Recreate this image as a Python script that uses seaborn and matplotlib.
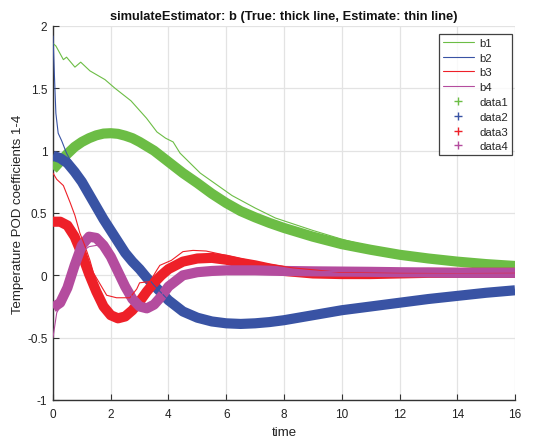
import matplotlib
matplotlib.use("Agg")
import matplotlib.pyplot as plt
from matplotlib.lines import Line2D
import seaborn as sns

# --- true coefficients (thick) ---
t_true = [0, 0.25, 0.5, 0.75, 1, 1.25, 1.5, 1.75, 2, 2.25, 2.5, 2.75, 3, 3.25,
          3.5, 3.75, 4, 4.5, 5, 5.5, 6, 6.5, 7, 7.5, 8, 9, 10, 11, 12, 13, 14, 15, 16]
b1_true = [0.85, 0.915, 0.975, 1.03, 1.07, 1.10, 1.123, 1.137, 1.14, 1.135, 1.12, 1.10, 1.07,
           1.035, 1.0, 0.955, 0.91, 0.82, 0.74, 0.655, 0.58, 0.515, 0.465, 0.42, 0.38,
           0.31, 0.25, 0.205, 0.165, 0.135, 0.11, 0.09, 0.075]
b2_true = [0.96, 0.94, 0.90, 0.83, 0.75, 0.65, 0.55, 0.45, 0.36, 0.27, 0.18, 0.11, 0.05,
           -0.02, -0.08, -0.14, -0.2, -0.29, -0.34, -0.37, -0.385, -0.39, -0.385, -0.375,
           -0.36, -0.32, -0.28, -0.25, -0.22, -0.19, -0.165, -0.14, -0.12]
b3_true = [0.43, 0.43, 0.40, 0.31, 0.17, 0.01, -0.13, -0.25, -0.32, -0.345, -0.33, -0.28,
           -0.21, -0.13, -0.06, 0.0, 0.05, 0.11, 0.135, 0.14, 0.125, 0.10, 0.08, 0.055,
           0.035, 0.015, 0.01, 0.01, 0.015, 0.02, 0.02, 0.02, 0.02]
b4_true = [-0.26, -0.22, -0.10, 0.08, 0.24, 0.31, 0.30, 0.24, 0.15, 0.03, -0.09, -0.19,
           -0.25, -0.265, -0.235, -0.17, -0.09, 0.0, 0.025, 0.035, 0.04, 0.04, 0.04, 0.037,
           0.035, 0.032, 0.03, 0.028, 0.025, 0.023, 0.02, 0.02, 0.02]

# --- estimated coefficients (thin) ---
t_e1 = [0, 0.1, 0.36, 0.47, 0.76, 0.96, 1.28, 1.8, 2.15, 2.7, 3.24, 3.6, 3.9, 4.16,
        4.4, 5.1, 6.2, 7.0, 7.7, 9, 10, 11, 12, 13, 14, 15, 16]
b1_est = [1.86, 1.84, 1.73, 1.75, 1.67, 1.71, 1.64, 1.57, 1.50, 1.40, 1.26, 1.15, 1.10,
          1.07, 0.98, 0.82, 0.64, 0.54, 0.46, 0.36, 0.29, 0.23, 0.18, 0.145, 0.12, 0.10, 0.08]

t_e2 = [0, 0.05, 0.1, 0.18, 0.3, 0.47, 0.7, 0.85, 1.0, 1.15, 1.3, 1.45, 1.6, 1.8, 2.0,
        2.25, 2.5, 2.75, 3.0, 3.5, 4, 4.5, 5, 6, 7, 8, 10, 12, 14, 16]
b2_est = [1.92, 1.6, 1.3, 1.14, 1.08, 0.98, 0.88, 0.84, 0.78, 0.72, 0.66, 0.61, 0.55,
          0.47, 0.38, 0.29, 0.19, 0.12, 0.06, -0.08, -0.2, -0.29, -0.34, -0.385, -0.385,
          -0.36, -0.28, -0.22, -0.165, -0.12]

t_e3 = [0, 0.13, 0.36, 0.6, 0.76, 0.93, 1.1, 1.28, 1.4, 1.63, 1.86, 2.2, 2.66, 2.9,
        3.0, 3.36, 3.59, 3.7, 4.1, 4.5, 4.85, 5.3, 6.0, 7.16, 8.3, 9.9, 12, 14, 16]
b3_est = [0.82, 0.77, 0.72, 0.58, 0.48, 0.34, 0.24, 0.12, 0.02, -0.07, -0.16, -0.18,
          -0.18, -0.11, -0.06, -0.05, 0.04, 0.08, 0.12, 0.19, 0.2, 0.195, 0.16, 0.10,
          0.06, 0.025, 0.02, 0.02, 0.02]

t_e4 = [0, 0.13, 0.25, 0.5, 0.75, 1, 1.25, 1.5, 1.75, 2, 2.25, 2.5, 2.75, 3, 3.25,
        3.5, 3.75, 4, 4.5, 5, 6, 8, 10, 12, 16]
b4_est = [-0.5, -0.3, -0.25, -0.12, 0.06, 0.19, 0.23, 0.24, 0.25, 0.17, 0.04, -0.08,
          -0.18, -0.24, -0.26, -0.23, -0.16, -0.08, 0.0, 0.03, 0.04, 0.035, 0.03, 0.025, 0.02]

colors = ["#6cbd45", "#3953a4", "#ee2028", "#b44c9e"]
est_labels = ["b1", "b2", "b3", "b4"]
true_labels = ["data1", "data2", "data3", "data4"]

sns.set_theme(style="ticks")
plt.rcParams["font.family"] = ["Liberation Sans", "DejaVu Sans"]

fig = plt.figure(figsize=(5.39, 4.39), dpi=100)
ax = fig.add_axes([0.0983, 0.0866, 0.8572, 0.8519])

est = [(t_e1, b1_est), (t_e2, b2_est), (t_e3, b3_est), (t_e4, b4_est)]
tru = [b1_true, b2_true, b3_true, b4_true]

for (tt, yy), c in zip(est, colors):
    sns.lineplot(x=tt, y=yy, ax=ax, color=c, linewidth=0.8, zorder=4,
                 estimator=None, sort=False)
for yy, c in zip(tru, colors):
    sns.lineplot(x=t_true, y=yy, ax=ax, color=c, linewidth=7.3, zorder=3,
                 estimator=None, sort=False, solid_capstyle="butt",
                 solid_joinstyle="round")

ax.set_xlim(0, 16)
ax.set_ylim(-1, 2)
ax.set_xticks(range(0, 17, 2))
ax.set_yticks([-1, -0.5, 0, 0.5, 1, 1.5, 2])
ax.set_yticklabels(["-1", "-0.5", "0", "0.5", "1", "1.5", "2"])
ax.grid(True, color="#e3e3e3", linewidth=0.9)
ax.set_axisbelow(True)
for s in ["top", "right"]:
    ax.spines[s].set_visible(False)
for s in ["left", "bottom"]:
    ax.spines[s].set_color("#333333")
    ax.spines[s].set_linewidth(1.0)
ax.tick_params(direction="in", length=4, width=0.8, color="#333333",
               labelsize=8.5, labelcolor="#222222")
ax.tick_params(axis="x", pad=6)
ax.tick_params(axis="y", pad=4)

ax.set_title("simulateEstimator: b (True: thick line, Estimate: thin line)",
             fontsize=9.3, fontweight="bold", pad=5, color="#111111")
ax.set_xlabel("time", fontsize=9.5, color="#222222", labelpad=4)
ax.set_ylabel("Temperature POD coefficients 1-4", fontsize=9.5, color="#222222",
              labelpad=2)

handles = [Line2D([], [], color=c, linewidth=0.8) for c in colors]
handles += [Line2D([], [], color=c, marker="+", linestyle="none", markersize=6,
                   markeredgewidth=1) for c in colors]
leg = ax.legend(handles, est_labels + true_labels, loc="upper right",
                bbox_to_anchor=(0.994, 0.979), borderaxespad=0, fontsize=8.2,
                frameon=True, fancybox=False, handlelength=2.7, labelspacing=0.42,
                handletextpad=0.5, borderpad=0.35)
leg.get_frame().set_edgecolor("#111111")
leg.get_frame().set_linewidth(0.9)

fig.savefig("out.png", dpi=100)
